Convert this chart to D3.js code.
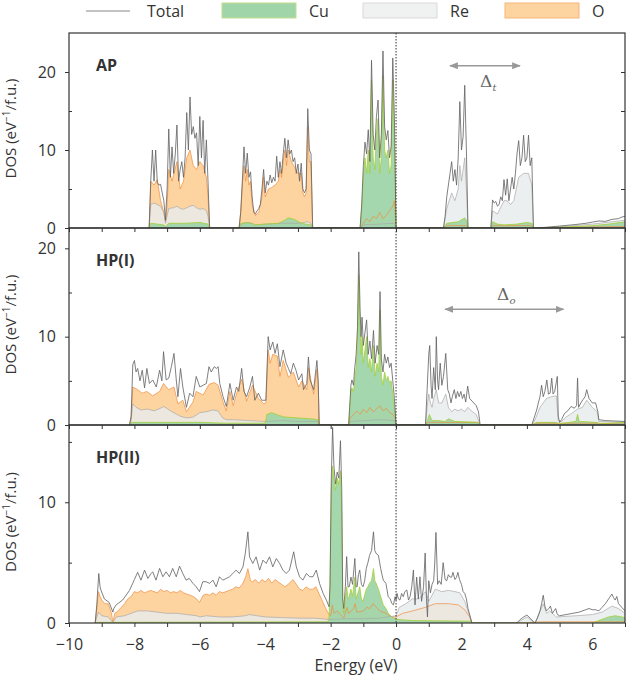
<!DOCTYPE html>
<html>
<head>
<meta charset="utf-8">
<title>DOS panels</title>
<script src="https://cdn.jsdelivr.net/npm/d3@7"></script>
<style>
  body { margin: 0; padding: 0; background: #fff; font-family: "Open Sans", sans-serif; }
  svg text { fill: #333; }
  .tick line { stroke: #333; }
</style>
</head>
<body>
<svg id="chart" width="627" height="677"></svg>
<script>
// ---- data: [energy (eV), DOS] pairs ----
var apTotal = [
  [-7.55,0],[-7.5,6],[-7.45,10],[-7.4,6],[-7.35,10],[-7.3,5.8],[-7.25,5.5],[-7.2,5.6],[-7.15,4.5],[-7.1,3.5],[-7.05,1.0],[-7.0,5],
  [-6.95,12.7],[-6.9,6.5],[-6.85,10.4],[-6.8,7],[-6.75,9.5],[-6.7,13.2],[-6.65,6],[-6.6,7.5],[-6.55,8.5],[-6.5,6.5],[-6.45,9],
  [-6.4,14.8],[-6.35,10],[-6.3,16.8],[-6.25,12],[-6.2,13],[-6.15,11.5],[-6.1,12.2],[-6.05,8],[-6.0,14.3],[-5.95,9],[-5.9,13.8],
  [-5.85,7],[-5.8,11.3],[-5.75,6],[-5.7,0],
  [-4.8,0],[-4.75,2],[-4.7,6],[-4.65,10.4],[-4.6,7],[-4.55,9.6],[-4.5,6.5],[-4.45,7.2],[-4.4,4],[-4.35,2],[-4.3,1.8],[-4.25,2.2],
  [-4.2,2.5],[-4.15,3],[-4.1,5],[-4.05,7.5],[-4.0,4.5],[-3.95,6],[-3.9,5.5],[-3.85,6.8],[-3.8,5.8],[-3.75,6.5],[-3.7,6],[-3.65,9.2],
  [-3.6,6.5],[-3.55,8.5],[-3.5,7],[-3.45,9.5],[-3.4,11.5],[-3.35,9],[-3.3,11.3],[-3.25,9.5],[-3.2,10],[-3.15,8.5],[-3.1,9],[-3.05,7],
  [-3.0,8.2],[-2.95,6],[-2.9,8.3],[-2.85,5],[-2.8,4.5],[-2.75,5],[-2.7,15.3],[-2.65,10],[-2.6,9.5],[-2.55,0],
  [-1.1,0],[-1.05,3],[-1.0,8],[-0.95,11],[-0.9,9.5],[-0.85,12.6],[-0.8,8.5],[-0.75,21.5],[-0.7,12],[-0.65,10],[-0.6,14.3],[-0.55,16.4],
  [-0.5,9],[-0.45,12],[-0.4,22.7],[-0.35,13],[-0.3,11.3],[-0.25,12.5],[-0.2,9],[-0.15,10.5],[-0.1,21.8],[-0.05,14],[0,0],
  [1.45,0],[1.5,1.5],[1.55,4],[1.6,5.5],[1.65,7],[1.7,8.5],[1.75,6],[1.8,7.5],[1.85,5.5],[1.9,9],[1.95,16.2],[2.0,10],[2.05,11.7],
  [2.1,18.3],[2.15,10],[2.2,0],
  [2.9,0],[2.95,3.6],[3.0,3.2],[3.05,3.4],[3.1,2.8],[3.15,3],[3.2,4],[3.25,3.5],[3.3,6.2],[3.35,4.2],[3.4,6.3],[3.45,3.5],[3.5,5],
  [3.55,6.5],[3.6,5],[3.65,7],[3.7,9.6],[3.75,11.2],[3.8,8],[3.85,9],[3.9,11.9],[3.95,8.5],[4.0,9],[4.05,11.9],[4.1,8],[4.15,9],[4.2,0],
  [4.3,0],[4.6,0.1],[5.0,0.25],[5.5,0.45],[5.8,0.6],[6.0,0.75],[6.2,0.9],[6.4,0.85],[6.6,1.1],[6.8,1.2],[6.9,1.4],[7.0,1.5]
];
var apCu = [
  [-7.55,0],[-7.5,0.6],[-7.3,0.5],[-7.1,0.4],[-7.05,0.2],[-6.95,0.6],[-6.5,0.6],[-6.0,0.7],[-5.75,0.5],[-5.7,0],
  [-4.8,0],[-4.75,0.6],[-4.5,0.7],[-4.3,0.4],[-4.0,0.5],[-3.6,0.6],[-3.4,1.0],[-3.3,1.3],[-3.1,1.1],[-2.9,0.6],[-2.6,0.4],[-2.55,0],
  [-1.1,0],[-1.05,2.5],[-1.0,6.5],[-0.95,9],[-0.9,7],[-0.85,10],[-0.8,7],[-0.75,19],[-0.7,9],[-0.65,7.5],[-0.6,12],[-0.55,14],
  [-0.5,7],[-0.45,9],[-0.4,19.5],[-0.35,10],[-0.3,9],[-0.25,10],[-0.2,7],[-0.15,8],[-0.1,19],[-0.05,11],[0,0],
  [1.45,0],[1.55,0.6],[1.9,0.8],[2.1,1.3],[2.15,1],[2.2,0],
  [2.9,0],[2.95,0.8],[3.1,0.5],[3.3,0.4],[3.7,0.5],[4.0,0.7],[4.15,0.6],[4.2,0],
  [4.3,0],[5.0,0.1],[6.0,0.3],[6.5,0.5],[7.0,0.8]
];
var apRe = [
  [-7.55,0],[-7.5,3],[-7.4,3.2],[-7.3,3],[-7.2,2.8],[-7.1,2],[-7.05,0.6],[-6.95,2.5],[-6.8,2.6],[-6.7,2.8],[-6.6,2.5],[-6.5,2.4],
  [-6.4,2.6],[-6.3,2.8],[-6.2,2.9],[-6.1,2.6],[-6.0,2.4],[-5.9,2.5],[-5.8,2.2],[-5.75,1.5],[-5.7,0],
  [-4.8,0],[-4.75,0.4],[-4.6,0.7],[-4.4,0.6],[-4.3,0.4],[-4.0,0.5],[-3.5,0.6],[-3.0,0.6],[-2.7,0.8],[-2.6,0.6],[-2.55,0],
  [-1.1,0],[-1.0,0.4],[-0.5,0.5],[-0.05,0.6],[0,0],
  [1.45,0],[1.55,2.5],[1.7,4.5],[1.8,3.5],[1.9,5],[1.95,8],[2.0,6],[2.1,9],[2.15,5],[2.2,0],
  [2.9,0],[2.95,2.2],[3.1,1.8],[3.3,3.5],[3.4,3.5],[3.5,3],[3.6,3.5],[3.7,5.5],[3.75,6.5],[3.9,7],[4.05,7],[4.15,5.5],[4.2,0],
  [4.3,0],[5.0,0.15],[6.0,0.5],[7.0,1]
];
var apO = [
  [-7.55,0],[-7.5,6],[-7.4,5.5],[-7.3,6.2],[-7.2,3.5],[-7.1,2],[-7.05,0.8],[-7.0,3],[-6.95,7.5],[-6.85,6],[-6.7,8.5],[-6.6,5],
  [-6.5,6],[-6.4,9],[-6.3,10],[-6.2,8],[-6.1,7.5],[-6.0,8.5],[-5.9,8],[-5.8,6.5],[-5.75,4],[-5.7,0],
  [-4.8,0],[-4.75,2],[-4.7,5.5],[-4.65,8],[-4.6,6],[-4.55,7.5],[-4.5,5.5],[-4.45,6],[-4.4,3],[-4.3,1.6],[-4.2,2],[-4.1,4],
  [-4.05,6.5],[-4.0,4],[-3.9,5],[-3.8,5.2],[-3.7,5.5],[-3.6,6],[-3.55,7.5],[-3.5,6.5],[-3.45,8.5],[-3.4,10],[-3.35,8],[-3.3,10],
  [-3.2,8.5],[-3.1,7.8],[-3.0,7],[-2.9,7],[-2.85,4.5],[-2.8,4],[-2.75,4.5],[-2.7,13],[-2.65,8.5],[-2.6,8.5],[-2.55,0],
  [-1.1,0],[-1.0,0.6],[-0.9,1.2],[-0.8,0.8],[-0.7,1.5],[-0.6,1.2],[-0.5,2],[-0.4,1.2],[-0.3,1.6],[-0.2,2.2],[-0.1,2.8],[-0.05,3.5],[0,0],
  [1.45,0],[1.55,0.3],[2.15,0.3],[2.2,0],[2.9,0],[2.95,0.3],[4.15,0.3],[4.2,0],[4.3,0],[7.0,0.2]
];

var hpiTotal = [
  [-8.15,0],[-8.1,1],[-8.05,6.8],[-8.0,7.3],[-7.95,6.0],[-7.9,6.4],[-7.83,5.0],[-7.76,6.2],[-7.69,4.2],[-7.62,6.4],[-7.54,4.7],
  [-7.44,5.1],[-7.33,4.3],[-7.23,6.2],[-7.16,5],[-7.11,8.3],[-7.03,5.1],[-6.95,5.3],[-6.87,6.6],[-6.79,8.1],[-6.72,5.1],[-6.67,3.2],
  [-6.59,6.4],[-6.52,4.3],[-6.41,2.0],[-6.31,3.6],[-6.21,3.2],[-6.11,5.5],[-6.0,4.3],[-5.9,4.5],[-5.8,4.7],[-5.72,6.6],[-5.65,6.0],
  [-5.56,6.6],[-5.49,6.4],[-5.44,6.6],[-5.39,4.7],[-5.29,3.2],[-5.19,2.1],[-5.08,4.7],[-4.98,2.8],[-4.88,4.3],[-4.81,3.8],[-4.72,6.4],
  [-4.65,3.8],[-4.57,3.2],[-4.47,4.3],[-4.39,5.5],[-4.32,2.8],[-4.21,3.6],[-4.11,2.8],[-4.04,2.8],[-3.98,2.8],[-3.91,10],[-3.85,8.5],
  [-3.77,9.4],[-3.7,8.1],[-3.63,9.2],[-3.55,6.6],[-3.45,8.5],[-3.36,7.0],[-3.29,6.4],[-3.22,5.8],[-3.14,7.0],[-3.06,6.2],[-2.98,5.1],
  [-2.88,5.8],[-2.83,4.0],[-2.73,4.7],[-2.68,7.7],[-2.63,5.1],[-2.52,4.0],[-2.42,7.3],[-2.38,5],[-2.35,0],
  [-1.45,0],[-1.42,2],[-1.38,4.5],[-1.35,5.1],[-1.3,4.5],[-1.27,6.2],[-1.22,8],[-1.18,11],[-1.14,19.6],[-1.1,13],[-1.07,10],
  [-1.04,12.2],[-1.0,9],[-0.95,10.5],[-0.9,11.9],[-0.85,8],[-0.8,9.5],[-0.75,7.5],[-0.69,10.7],[-0.64,7],[-0.58,9],[-0.53,8],
  [-0.49,15.1],[-0.45,7.5],[-0.4,6],[-0.35,8],[-0.3,7],[-0.25,7.7],[-0.2,6.5],[-0.15,7],[-0.1,5],[-0.05,3],[0,0],
  [0.9,0],[0.95,4],[1.0,8],[1.03,9],[1.07,4.5],[1.1,3],[1.15,6.5],[1.2,4],[1.23,10],[1.27,5],[1.3,4],[1.35,7],[1.4,4.5],[1.45,5.5],
  [1.52,8.1],[1.58,4],[1.63,3.5],[1.68,2.5],[1.72,3.2],[1.78,4.0],[1.83,3],[1.88,3.8],[1.93,3.2],[1.98,3.8],[2.03,3.0],[2.08,3.5],
  [2.13,2.6],[2.19,4.4],[2.25,3],[2.35,2.6],[2.45,2.2],[2.52,1.5],[2.57,0],
  [4.15,0],[4.22,0.8],[4.3,1.7],[4.35,2.5],[4.4,3.2],[4.45,4.5],[4.5,3.2],[4.55,3.8],[4.61,5.1],[4.66,3.5],[4.71,3.6],[4.76,5.3],
  [4.8,3.5],[4.85,3.8],[4.93,5.5],[4.96,1],[5.0,0.3],[5.06,0.6],[5.15,1.3],[5.25,1.6],[5.35,2.1],[5.45,1.9],[5.52,2.2],[5.55,5.3],
  [5.58,2],[5.65,2.5],[5.72,2.9],[5.78,3.2],[5.83,4.0],[5.9,3],[6.0,2.5],[6.1,2.5],[6.17,1.5],[6.2,0.6],[6.4,0.5],[6.7,0.45],[7.0,0.4]
];
var hpiCu = [
  [-8.15,0],[-8.1,0.3],[-6.0,0.3],[-5.2,0.2],[-4.0,0.2],[-3.95,1.2],[-3.8,1.4],[-3.6,1.1],[-3.4,0.9],[-3.0,0.8],[-2.6,0.7],
  [-2.38,0.6],[-2.35,0],
  [-1.45,0],[-1.42,1.5],[-1.38,3.8],[-1.35,4.2],[-1.3,3.8],[-1.27,5],[-1.22,6.5],[-1.18,9],[-1.14,17],[-1.1,11],[-1.07,8],[-1.04,10],
  [-1.0,7],[-0.95,8.5],[-0.9,10],[-0.85,6.5],[-0.8,7.5],[-0.75,6],[-0.69,9],[-0.64,5.5],[-0.58,7],[-0.53,6],[-0.49,13],[-0.45,5.5],
  [-0.4,4.5],[-0.35,6],[-0.3,5],[-0.25,5.5],[-0.2,4.8],[-0.15,5],[-0.1,3.5],[-0.05,2],[0,0],
  [0.9,0],[0.95,0.4],[1.02,1.2],[1.1,0.5],[1.3,0.5],[1.5,0.4],[1.6,0.7],[1.8,0.4],[2.5,0.3],[2.57,0],
  [4.15,0],[4.3,0.3],[4.9,0.3],[4.96,0.1],[5.1,0.2],[5.5,0.4],[5.55,1.2],[5.6,0.4],[6.15,0.3],[6.2,0.15],[7.0,0.3]
];
var hpiRe = [
  [-8.15,0],[-8.1,0.5],[-8.05,2.4],[-7.95,2],[-7.8,1.7],[-7.6,1.8],[-7.4,1.6],[-7.2,1.9],[-7.1,2.1],[-6.9,1.6],[-6.7,1.2],[-6.6,1.0],
  [-6.4,0.8],[-6.2,0.9],[-6.0,1.4],[-5.8,1.5],[-5.6,1.7],[-5.45,1.6],[-5.3,0.8],[-5.2,0.6],[-5.0,0.6],[-4.5,0.5],[-4.0,0.4],
  [-3.5,0.5],[-3.0,0.4],[-2.4,0.4],[-2.35,0],
  [-1.45,0],[-1.4,0.4],[-0.5,0.6],[-0.05,0.5],[0,0],
  [0.9,0],[0.95,2],[1.0,3.5],[1.05,2.5],[1.1,2],[1.15,3],[1.23,4],[1.3,2.5],[1.4,2.5],[1.52,3.5],[1.6,2],[1.7,1.5],[1.8,1.8],
  [1.9,1.6],[2.0,1.8],[2.1,1.5],[2.2,2],[2.3,1.6],[2.45,1.2],[2.57,0],
  [4.15,0],[4.25,0.6],[4.4,2],[4.5,2.5],[4.6,3],[4.75,3.2],[4.9,3.3],[4.96,0.5],[5.06,0.4],[5.2,0.9],[5.4,1.4],[5.55,1.8],
  [5.7,2.0],[5.83,2.8],[6.0,2.0],[6.15,1.5],[6.2,0.4],[7.0,0.3]
];
var hpiO = [
  [-8.15,0],[-8.1,1],[-8.05,4.3],[-7.9,4],[-7.76,3.6],[-7.62,3.8],[-7.44,3.3],[-7.23,3.8],[-7.11,4.7],[-6.95,4],[-6.79,4.3],
  [-6.67,2.4],[-6.52,2.8],[-6.41,1.5],[-6.21,2.6],[-6.11,3.8],[-5.9,3.4],[-5.72,4.6],[-5.56,4.8],[-5.44,4.5],[-5.29,2.6],[-5.19,1.6],
  [-5.08,3.8],[-4.98,2.2],[-4.88,3.5],[-4.72,5.2],[-4.57,2.7],[-4.39,4.5],[-4.21,3],[-4.04,2.4],[-3.98,2.5],[-3.91,8.5],[-3.85,7],
  [-3.77,8],[-3.63,7.8],[-3.55,5.5],[-3.45,7.3],[-3.29,5.4],[-3.14,6],[-2.98,4.3],[-2.88,5],[-2.73,4],[-2.68,6.5],[-2.52,3.5],
  [-2.42,6.3],[-2.38,4.5],[-2.35,0],
  [-1.45,0],[-1.4,0.8],[-1.3,1.2],[-1.2,1.6],[-1.1,1.2],[-1.0,1.8],[-0.9,1.4],[-0.8,2],[-0.7,1.5],[-0.6,1.8],[-0.5,2.2],[-0.4,1.6],
  [-0.3,1.9],[-0.2,1.4],[-0.1,1.2],[-0.03,0.8],[0,0],
  [0.9,0],[0.95,0.3],[2.5,0.3],[2.57,0],
  [4.15,0],[4.3,0.2],[6.2,0.2],[7.0,0.1]
];

var hpiiTotal = [
  [-9.2,0],[-9.15,1.5],[-9.09,4.1],[-9.05,3.0],[-9.02,2.7],[-8.92,2.0],[-8.77,1.7],[-8.66,0.9],[-8.63,1.2],[-8.56,1.5],[-8.36,1.9],
  [-8.15,2.7],[-8.05,3.3],[-8.0,3.6],[-7.9,4.2],[-7.8,3.55],[-7.69,4.38],[-7.59,3.69],[-7.49,4.1],[-7.44,4.24],[-7.34,3.55],
  [-7.23,4.52],[-7.13,3.83],[-7.03,4.24],[-6.93,3.83],[-6.83,4.52],[-6.72,3.83],[-6.62,4.71],[-6.52,4.1],[-6.42,3.55],[-6.32,3.69],
  [-6.21,3.28],[-6.11,3.0],[-6.01,2.6],[-5.91,3.42],[-5.81,3.42],[-5.7,3.28],[-5.6,3.55],[-5.5,3.0],[-5.4,3.83],[-5.3,3.55],
  [-5.19,3.69],[-5.09,3.83],[-4.99,4.1],[-4.89,4.38],[-4.79,4.1],[-4.68,4.65],[-4.61,5.76],[-4.53,7.55],[-4.48,5.48],[-4.38,4.93],
  [-4.28,5.48],[-4.17,4.38],[-4.07,5.21],[-3.97,4.93],[-3.87,5.48],[-3.77,4.65],[-3.66,5.34],[-3.56,4.93],[-3.46,4.38],[-3.36,4.1],
  [-3.26,4.38],[-3.13,5.9],[-3.05,4.65],[-2.95,3.83],[-2.85,3.55],[-2.74,4.1],[-2.64,3.83],[-2.54,3.83],[-2.44,4.38],[-2.34,3.28],
  [-2.23,2.45],[-2.13,1.9],[-2.05,1.35],
  [-2.02,3],[-1.98,12],[-1.94,16.2],[-1.9,13],[-1.85,11.5],[-1.8,12.5],[-1.75,12],[-1.7,15.1],[-1.66,11],[-1.63,2],[-1.6,1.2],
  [-1.55,3],[-1.51,5.5],[-1.47,3],[-1.43,3],[-1.38,3.8],[-1.33,3.2],[-1.26,5.34],[-1.22,3],[-1.19,3],[-1.15,4],[-1.11,4.38],
  [-1.06,3.2],[-1.01,3],[-0.96,3.5],[-0.91,4.52],[-0.86,5],[-0.81,5.6],[-0.75,6],[-0.69,7.55],[-0.65,6],[-0.61,5.76],[-0.54,5.6],
  [-0.47,4.52],[-0.43,4],[-0.39,3.55],[-0.31,3.28],[-0.24,2.18],[-0.18,2],[-0.13,1.62],[-0.08,1.5],[-0.03,2.18],[0,1.9],
  [0.03,2.45],[0.07,2.0],[0.12,1.9],[0.17,2.45],[0.22,2.18],[0.27,2.6],[0.33,2.73],[0.38,1.9],[0.43,2.2],[0.48,3],[0.53,4.38],
  [0.58,1.5],[0.63,3.8],[0.68,2],[0.73,3.83],[0.78,1.8],[0.84,3],[0.89,5.8],[0.93,2],[0.96,0.5],[1.0,3.5],[1.05,2.5],[1.1,3.2],
  [1.15,3.5],[1.18,4.8],[1.22,7.5],[1.27,3.2],[1.32,3.5],[1.38,3.2],[1.44,5.0],[1.5,3.6],[1.55,3.5],[1.6,4],[1.65,3.8],[1.7,3.8],
  [1.74,4.2],[1.8,3.6],[1.85,3.8],[1.89,4.2],[1.94,3.6],[2.0,3.2],[2.05,2.6],[2.1,2.45],[2.15,2.0],[2.2,1.2],[2.27,0.5],[2.32,0],
  [3.69,0],[3.8,0.3],[3.9,0.5],[4.0,0.66],[4.1,0.4],[4.2,0.1],[4.25,0],[4.32,0.4],[4.4,1],[4.45,1.6],[4.5,2.3],[4.55,1.4],[4.6,1.0],
  [4.67,1.2],[4.72,1.4],[4.78,0.8],[4.83,1.0],[4.88,1.2],[4.93,0.7],[5.0,0.6],[5.2,0.7],[5.4,0.8],[5.6,0.9],[5.8,1.1],[5.9,1.2],
  [6.0,1.1],[6.1,1.1],[6.2,1.0],[6.3,1.3],[6.4,1.6],[6.5,2.0],[6.6,2.4],[6.65,2.1],[6.7,1.9],[6.75,2.2],[6.8,1.6],[6.9,1.3],[7.0,1.0]
];
var hpiiCu = [
  [-9.2,0],[-9.15,0.05],[-2.1,0.1],[-2.05,0.3],[-2.02,3],[-1.98,11],[-1.94,13],[-1.9,12],[-1.85,11],[-1.8,12],[-1.75,11.5],
  [-1.7,12.6],[-1.66,9],[-1.63,1.5],[-1.6,0.8],[-1.55,2],[-1.51,3.0],[-1.47,2],[-1.43,2.2],[-1.38,2.8],[-1.33,2.2],[-1.26,3.8],
  [-1.22,2],[-1.15,2.6],[-1.11,3],[-1.06,2],[-1.01,1.8],[-0.91,2.8],[-0.86,3],[-0.81,3.3],[-0.75,3.5],[-0.69,4.5],[-0.65,3.5],
  [-0.61,3.3],[-0.54,2.8],[-0.47,2.2],[-0.39,1.5],[-0.31,1.2],[-0.24,0.8],[-0.13,0.5],[0,0.3],[0.5,0.2],[2.3,0.15],[2.32,0],
  [6.0,0],[6.2,0.2],[6.5,0.5],[6.7,0.6],[7.0,0.45]
];
var hpiiRe = [
  [-9.2,0],[-9.15,0.5],[-9.1,0.9],[-9.0,0.6],[-8.8,0.5],[-8.66,0.05],[-8.55,0.5],[-8.3,0.6],[-8.1,0.8],[-7.9,1.0],[-7.6,1.0],
  [-7.3,0.9],[-7.0,0.8],[-6.7,0.8],[-6.4,0.7],[-6.1,0.6],[-6.0,0.5],[-5.8,0.6],[-5.4,0.5],[-5.0,0.5],[-4.6,0.6],[-4.5,0.7],
  [-4.0,0.5],[-3.5,0.45],[-3.0,0.4],[-2.5,0.4],[-2.05,0.3],[-1.5,0.35],[-1.0,0.35],[-0.5,0.4],[0,0.6],
  [0.1,1.3],[0.3,1.6],[0.5,2],[0.7,2],[0.9,2.6],[1.0,1.8],[1.2,2.8],[1.4,2.6],[1.6,2.7],[1.8,2.6],[1.95,2.5],[2.1,1.8],[2.25,0.6],
  [2.32,0],
  [3.69,0],[4.0,0.5],[4.25,0],[4.5,1.6],[4.6,0.8],[4.7,1.0],[4.9,0.5],[5.5,0.6],[6.0,0.7],[6.3,0.9],[6.6,1.4],[6.8,1.2],[7.0,0.8]
];
var hpiiO = [
  [-9.2,0],[-9.15,1.2],[-9.1,2.6],[-9.05,2.2],[-9.0,1.9],[-8.9,1.6],[-8.8,1.6],[-8.7,0.8],[-8.66,0.05],[-8.6,0.8],[-8.5,1.0],
  [-8.4,1.3],[-8.3,1.6],[-8.2,2.0],[-8.1,2.2],[-8.0,2.6],[-7.9,2.5],[-7.8,2.7],[-7.7,2.5],[-7.6,2.6],[-7.5,2.7],[-7.4,2.6],
  [-7.3,2.5],[-7.2,2.8],[-7.1,2.6],[-7.0,2.7],[-6.9,2.5],[-6.8,2.6],[-6.7,2.5],[-6.6,2.7],[-6.5,2.5],[-6.4,2.4],[-6.3,2.3],
  [-6.2,2.2],[-6.1,2.0],[-6.01,1.7],[-5.9,2.3],[-5.8,2.4],[-5.7,2.3],[-5.6,2.5],[-5.5,2.3],[-5.4,2.6],[-5.3,2.5],[-5.2,2.6],
  [-5.1,2.7],[-5.0,2.8],[-4.9,3.0],[-4.8,2.9],[-4.7,3.2],[-4.6,3.8],[-4.53,4.5],[-4.45,3.5],[-4.4,3.4],[-4.3,3.6],[-4.2,3.3],
  [-4.1,3.6],[-4.0,3.4],[-3.9,3.7],[-3.8,3.3],[-3.7,3.6],[-3.6,3.4],[-3.5,3.2],[-3.4,3.0],[-3.3,3.2],[-3.15,3.6],[-3.05,3.2],
  [-2.95,2.8],[-2.85,2.7],[-2.75,3.0],[-2.65,2.8],[-2.55,2.8],[-2.45,3.0],[-2.35,2.4],[-2.25,1.8],[-2.15,1.2],[-2.05,0.7],
  [-2.0,0.6],[-1.95,1.5],[-1.9,0.8],[-1.8,1.0],[-1.7,0.7],[-1.6,0.4],[-1.5,1.3],[-1.45,0.8],[-1.3,1.2],[-1.25,1.6],[-1.2,0.9],
  [-1.0,1.0],[-0.9,1.3],[-0.8,1.2],[-0.7,1.6],[-0.6,1.3],[-0.5,1.0],[-0.4,0.9],[-0.3,0.8],[-0.2,0.6],[-0.1,0.5],[0,0.5],
  [0.2,0.8],[0.5,1.0],[0.9,1.3],[1.2,1.6],[1.6,1.6],[1.9,1.5],[2.1,1.1],[2.25,0.5],[2.32,0],
  [3.69,0],[4.5,0.1],[7.0,0.1]
];

var panelNames = ["AP", "HP(I)", "HP(II)"];
var panelYMax = [25, 22.3, 16.4];
var panelYLabels = [[0, 10, 20], [0, 10, 20], [0, 10]];
var panelYMinor = [[5, 15], [5, 15], [5, 15]];
var xTickValues = d3.range(-10, 8, 1);
var legendNames = ["Total", "Cu", "Re", "O"];

// gap markers: [from eV, to eV, DOS height, label subscript, label eV, label DOS]
var gapArrows = [
  { panel: 0, from: 1.65, to: 3.79, at: 20.8, sub: "t", lx: 2.57, ly: 18.1 },
  { panel: 1, from: 1.5, to: 5.12, at: 13.1, sub: "o", lx: 3.09, ly: 14.1 }
];

// ---- layout ----
var LEFT = 69, RIGHT = 625;
var PANEL_EDGES = [33, 228, 425, 623];
var COLORS = {
  total: "#606060",
  cuFill: "#a0d5aa", cuLine: "#a3cf34",
  reFill: "#e8ebed", reLine: "#a9a9a9",
  oFill: "#fdd3a0", oLine: "#ef8c3e",
  frame: "#333"
};

var series = [
  { total: apTotal, cu: apCu, re: apRe, o: apO },
  { total: hpiTotal, cu: hpiCu, re: hpiRe, o: hpiO },
  { total: hpiiTotal, cu: hpiiCu, re: hpiiRe, o: hpiiO }
];

var svg = d3.select("#chart");
var defs = svg.append("defs");
defs.append("marker")
  .attr("id", "arrowhead")
  .attr("viewBox", "0 0 10 8")
  .attr("refX", 9).attr("refY", 4)
  .attr("markerUnits", "userSpaceOnUse")
  .attr("markerWidth", 9).attr("markerHeight", 7)
  .attr("orient", "auto-start-reverse")
  .append("path").attr("d", "M0,0 L10,4 L0,8 Z").attr("fill", "#999");

var x = d3.scaleLinear().domain([-10, 7]).range([LEFT, RIGHT]);

var yScales = [];

series.forEach(function(s, i) {
  var top = PANEL_EDGES[i], bottom = PANEL_EDGES[i + 1];
  var y = d3.scaleLinear().domain([0, panelYMax[i]]).range([bottom, top]);
  yScales.push(y);

  defs.append("clipPath").attr("id", "clip" + i)
    .append("rect").attr("x", LEFT).attr("y", top).attr("width", RIGHT - LEFT).attr("height", bottom - top);

  var plot = svg.append("g").attr("clip-path", "url(#clip" + i + ")");
  var area = d3.area().x(function(d) { return x(d[0]); }).y0(y(0)).y1(function(d) { return y(d[1]); });
  var line = d3.line().x(function(d) { return x(d[0]); }).y(function(d) { return y(d[1]); });

  plot.append("path").datum(s.o).attr("d", area).attr("fill", COLORS.oFill);
  plot.append("path").datum(s.re).attr("d", area).attr("fill", COLORS.reFill).attr("fill-opacity", 0.82);
  plot.append("path").datum(s.cu).attr("d", area).attr("fill", COLORS.cuFill).attr("fill-opacity", 0.95);

  plot.append("path").datum(s.o).attr("d", line).attr("fill", "none").attr("stroke", COLORS.oLine).attr("stroke-width", 0.7);
  plot.append("path").datum(s.re).attr("d", line).attr("fill", "none").attr("stroke", COLORS.reLine).attr("stroke-width", 0.7);
  plot.append("path").datum(s.cu).attr("d", line).attr("fill", "none").attr("stroke", COLORS.cuLine).attr("stroke-width", 0.8);
  plot.append("path").datum(s.total).attr("d", line).attr("fill", "none").attr("stroke", COLORS.total).attr("stroke-width", 0.8);

  // bottom axis (labels only on the last panel)
  var xAxis = d3.axisBottom(x).tickValues(xTickValues).tickSize(4).tickPadding(12)
    .tickFormat(function(d) { return (i === 2 && d % 2 === 0) ? d3.format("")(d) : ""; });
  var gx = svg.append("g").attr("transform", "translate(0," + bottom + ")").call(xAxis);
  gx.select(".domain").remove();
  gx.selectAll("text").attr("font-size", 16).attr("font-family", "Open Sans").attr("fill", "#333");

  // left axis: labelled majors outward, minors inward
  var gy = svg.append("g").attr("transform", "translate(" + LEFT + ",0)")
    .call(d3.axisLeft(y).tickValues(panelYLabels[i]).tickSize(4).tickPadding(9));
  gy.select(".domain").remove();
  gy.selectAll("text").attr("font-size", 16).attr("font-family", "Open Sans").attr("fill", "#333");
  var gyMinor = svg.append("g").attr("transform", "translate(" + LEFT + ",0)")
    .call(d3.axisRight(y).tickValues(panelYMinor[i]).tickSize(3).tickFormat(""));
  gyMinor.select(".domain").remove();

  // right axis: inward ticks every 5
  var rTicks = panelYLabels[i].concat(panelYMinor[i]).filter(function(v) { return v > 0; });
  var gr = svg.append("g").attr("transform", "translate(" + RIGHT + ",0)")
    .call(d3.axisLeft(y).tickValues(rTicks).tickSize(4).tickFormat(""));
  gr.select(".domain").remove();

  svg.append("rect")
    .attr("x", LEFT).attr("y", top).attr("width", RIGHT - LEFT).attr("height", bottom - top)
    .attr("fill", "none").attr("stroke", COLORS.frame).attr("stroke-width", 1.2);

  svg.append("text")
    .attr("x", 96).attr("y", top + 38)
    .attr("font-size", 16).attr("font-weight", "bold").attr("font-family", "Open Sans")
    .text(panelNames[i]);

  var ylab = svg.append("text")
    .attr("transform", "translate(16," + ((top + bottom) / 2 - 2) + ") rotate(-90)")
    .attr("text-anchor", "middle").attr("font-size", 15).attr("font-family", "Open Sans");
  ylab.append("tspan").text("DOS (eV");
  ylab.append("tspan").attr("dy", -6).attr("font-size", 10).text("\u22121");
  ylab.append("tspan").attr("dy", 6).text("/f.u.)");
});

// Fermi level
svg.append("line")
  .attr("x1", x(0)).attr("x2", x(0))
  .attr("y1", PANEL_EDGES[0]).attr("y2", PANEL_EDGES[3])
  .attr("stroke", "#333").attr("stroke-width", 1).attr("stroke-dasharray", "1.5,1.5");

// gap arrows
gapArrows.forEach(function(a) {
  var y = yScales[a.panel];
  svg.append("line")
    .attr("x1", x(a.from)).attr("x2", x(a.to))
    .attr("y1", y(a.at)).attr("y2", y(a.at))
    .attr("stroke", "#999").attr("stroke-width", 1.6)
    .attr("marker-start", "url(#arrowhead)").attr("marker-end", "url(#arrowhead)");
  var t = svg.append("text").attr("x", x(a.lx)).attr("y", y(a.ly))
    .attr("font-size", 17).attr("font-family", "DejaVu Serif").style("fill", "#666");
  t.append("tspan").text("\u0394");
  t.append("tspan").attr("dy", 4).attr("font-size", 10).attr("font-style", "italic").text(a.sub);
});

// x label
svg.append("text")
  .attr("x", 356).attr("y", 671)
  .attr("text-anchor", "middle").attr("font-size", 16).attr("font-family", "Open Sans")
  .text("Energy (eV)");

// legend
var legend = svg.append("g");
legend.append("line").attr("x1", 86).attr("x2", 130).attr("y1", 11).attr("y2", 11)
  .attr("stroke", "#888").attr("stroke-width", 1.2);
legend.append("text").attr("x", 147).attr("y", 17).attr("font-size", 16).attr("font-family", "Open Sans").text(legendNames[0]);
var swatches = [
  { x: 222, fill: COLORS.cuFill, stroke: "#c4de8c" },
  { x: 363, fill: "#f0f1f1", stroke: "#d9d9d9" },
  { x: 505, fill: COLORS.oFill, stroke: "#f4b77a" }
];
swatches.forEach(function(sw, k) {
  legend.append("rect").attr("x", sw.x).attr("y", 3).attr("width", 74).attr("height", 15)
    .attr("fill", sw.fill).attr("stroke", sw.stroke).attr("stroke-width", 1);
  legend.append("text").attr("x", sw.x + 87).attr("y", 17).attr("font-size", 16).attr("font-family", "Open Sans")
    .text(legendNames[k + 1]);
});
</script>
</body>
</html>
